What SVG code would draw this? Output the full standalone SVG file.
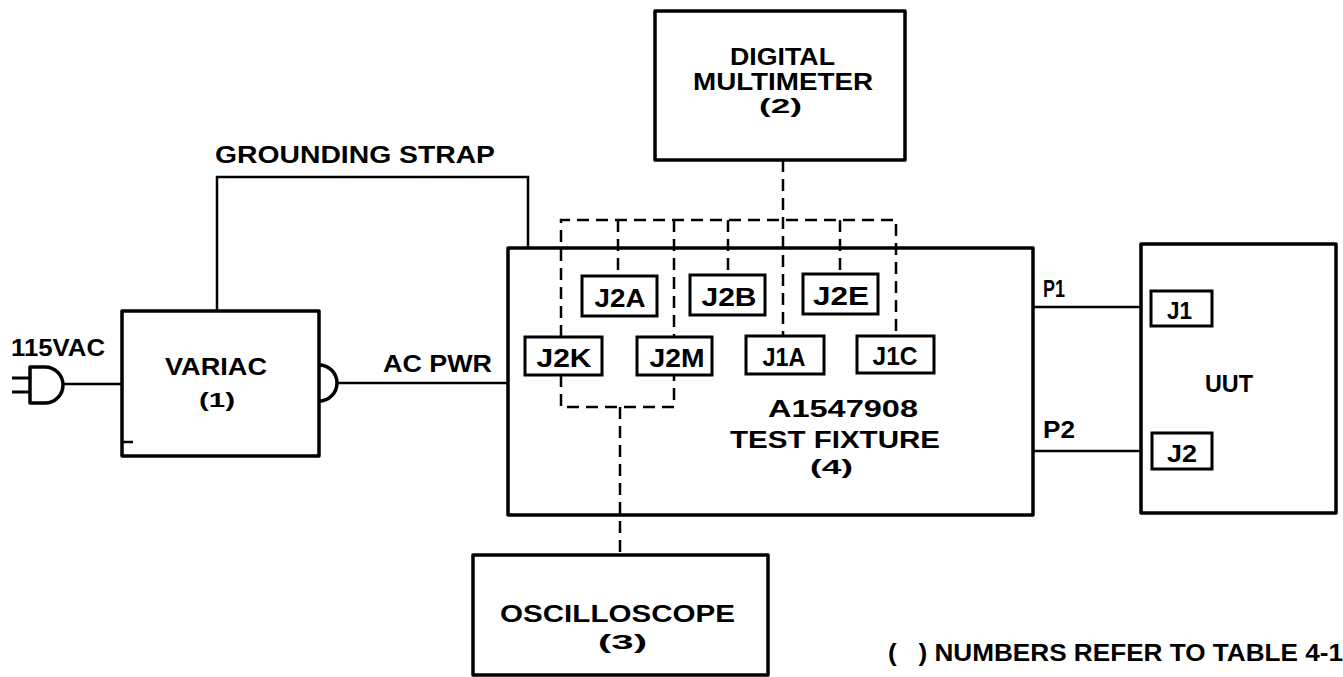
<svg xmlns="http://www.w3.org/2000/svg" width="1343" height="677" viewBox="0 0 1343 677">
<style>
.box{fill:none;stroke:#000;stroke-width:3.5;stroke-linejoin:round}
.jbox{fill:none;stroke:#000;stroke-width:3}
.wire{fill:none;stroke:#000;stroke-width:2.5}
.dash{fill:none;stroke:#000;stroke-width:2.5;stroke-dasharray:12 7}
text{font-family:"Liberation Sans",Arial,sans-serif;font-weight:bold;font-size:24px;fill:#000}
.j{font-size:25px;text-anchor:middle}
.num{font-size:20px}
</style>
<rect width="1343" height="677" fill="#fff"/>
<g id="plug">
<path class="box" d="M30,367 H45 A18,18 0 0 1 45,403 H30 Z"/>
<path class="wire" d="M12,378 H30 M12,392 H30" style="stroke-width:3"/>
<text x="11" y="356" textLength="94" lengthAdjust="spacingAndGlyphs">115VAC</text>
</g>
<g id="variac">
<rect class="box" x="122" y="311" width="197" height="145"/>
<path class="box" d="M319,365 A18,18 0 0 1 319,401"/>
<path class="wire" d="M122,442 H133"/>
<text x="165" y="375" textLength="102" lengthAdjust="spacingAndGlyphs">VARIAC</text>
<text class="num" x="199" y="407" textLength="36" lengthAdjust="spacingAndGlyphs">(1)</text>
</g>
<g id="multimeter">
<rect class="box" x="655" y="11" width="250" height="149"/>
<text x="730" y="65" textLength="105" lengthAdjust="spacingAndGlyphs">DIGITAL</text>
<text x="693" y="90" textLength="180" lengthAdjust="spacingAndGlyphs">MULTIMETER</text>
<text class="num" x="759" y="113" textLength="43" lengthAdjust="spacingAndGlyphs">(2)</text>
</g>
<g id="fixture">
<rect class="box" x="508" y="248" width="525" height="267"/>
<text x="768" y="417" textLength="150" lengthAdjust="spacingAndGlyphs">A1547908</text>
<text x="730" y="448" textLength="210" lengthAdjust="spacingAndGlyphs">TEST  FIXTURE</text>
<text class="num" x="810" y="474" textLength="43" lengthAdjust="spacingAndGlyphs">(4)</text>
</g>
<g id="J2A"><rect class="jbox" x="582" y="276" width="75" height="40"/><text class="j" x="620" y="307" textLength="51" lengthAdjust="spacingAndGlyphs">J2A</text></g>
<g id="J2B"><rect class="jbox" x="690" y="275" width="75" height="40"/><text class="j" x="729" y="306" textLength="55" lengthAdjust="spacingAndGlyphs">J2B</text></g>
<g id="J2E"><rect class="jbox" x="803" y="274" width="75" height="40"/><text class="j" x="841" y="305" textLength="56" lengthAdjust="spacingAndGlyphs">J2E</text></g>
<g id="J2K"><rect class="jbox" x="525" y="337" width="77" height="38"/><text class="j" x="564" y="367" textLength="55" lengthAdjust="spacingAndGlyphs">J2K</text></g>
<g id="J2M"><rect class="jbox" x="637" y="337" width="75" height="38"/><text class="j" x="677" y="367" textLength="55" lengthAdjust="spacingAndGlyphs">J2M</text></g>
<g id="J1A"><rect class="jbox" x="746" y="336" width="78" height="38"/><text class="j" x="784" y="366" textLength="43" lengthAdjust="spacingAndGlyphs">J1A</text></g>
<g id="J1C"><rect class="jbox" x="857" y="336" width="77" height="37"/><text class="j" x="895" y="365" textLength="45" lengthAdjust="spacingAndGlyphs">J1C</text></g>
<g id="oscilloscope">
<rect class="box" x="473" y="555" width="295" height="120"/>
<text x="500" y="622" textLength="235" lengthAdjust="spacingAndGlyphs">OSCILLOSCOPE</text>
<text class="num" x="598" y="649" textLength="49" lengthAdjust="spacingAndGlyphs" style="font-size:21px">(3)</text>
</g>
<g id="uut">
<rect class="box" x="1141" y="244" width="195" height="269"/>
<text x="1205" y="392" textLength="48" lengthAdjust="spacingAndGlyphs">UUT</text>
<g id="J1"><rect class="jbox" x="1151" y="291" width="61" height="35"/><text x="1167" y="319" textLength="25" lengthAdjust="spacingAndGlyphs">J1</text></g>
<g id="J2"><rect class="jbox" x="1152" y="433" width="60" height="36"/><text x="1167" y="462" textLength="30" lengthAdjust="spacingAndGlyphs">J2</text></g>
</g>
<g id="connectors">
<path class="wire" d="M63,384 H122"/>
<path class="wire" d="M217,311 V177 H528 V248"/>
<text x="215" y="163" textLength="280" lengthAdjust="spacingAndGlyphs">GROUNDING STRAP</text>
<path class="wire" d="M337,383 H508"/>
<text x="383" y="372" textLength="109" lengthAdjust="spacingAndGlyphs">AC PWR</text>
<path class="wire" d="M1033,307 H1141"/>
<text x="1043" y="297" textLength="22" lengthAdjust="spacingAndGlyphs">P1</text>
<path class="wire" d="M1033,451 H1141"/>
<text x="1043" y="438" textLength="32" lengthAdjust="spacingAndGlyphs">P2</text>
<path class="dash" d="M561,337 V220 H896 V336"/>
<path class="dash" d="M618,220 V276 M674,220 V337 M728,220 V275 M840,220 V274"/>
<path class="dash" d="M783,160 V336"/>
<path class="dash" d="M561,375 V407 H674 V375"/>
<path class="dash" d="M620,407 V555"/>
</g>
<text x="888" y="661" textLength="455" lengthAdjust="spacingAndGlyphs" xml:space="preserve">(   ) NUMBERS REFER TO TABLE 4-1</text>
</svg>
